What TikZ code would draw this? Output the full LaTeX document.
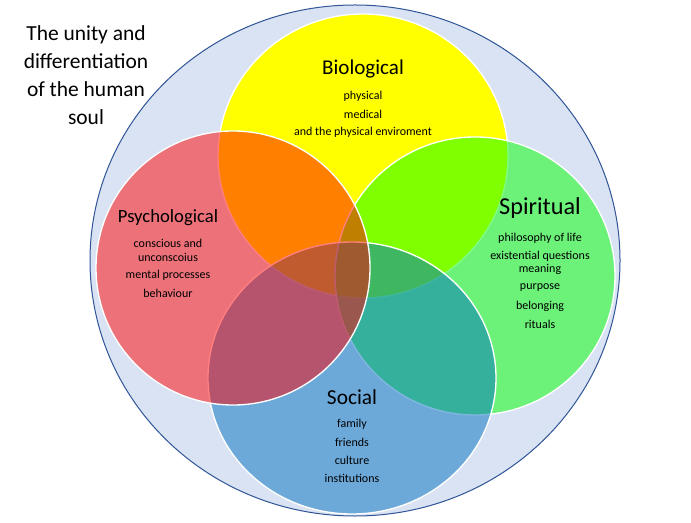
\documentclass[tikz,border=0pt]{standalone}
\usepackage{fontspec}
\setmainfont{Carlito}
\usetikzlibrary{positioning}
\definecolor{soulbg}{HTML}{DAE3F3}
\definecolor{soulrim}{HTML}{2F5597}
\definecolor{biocol}{HTML}{FFFF00}
\definecolor{spicol}{HTML}{00FF00}
\definecolor{soccol}{HTML}{0070C0}
\definecolor{psycol}{HTML}{FF0000}
\tikzset{
  part/.style={draw=white, line width=1pt},
  glassy/.style={part, fill opacity=0.5},
  title/.style={font=\fontsize{16.1}{21}\selectfont, align=center},
  item/.style={font=\fontsize{9}{11}\selectfont, align=center, inner sep=0pt},
}

\begin{document}
\begin{tikzpicture}[x=0.75pt,y=-0.75pt]
\useasboundingbox (0,0) rectangle (691,523);
% the whole soul
\draw[soulrim, fill=soulbg, line width=0.75pt] (355,260.5) ellipse [x radius=265, y radius=255.5];
% the four dimensions, yellow opaque underneath
\draw[part, fill=biocol] (363,156) ellipse [x radius=145, y radius=142];
\draw[glassy, fill=spicol] (475,276) ellipse [x radius=140, y radius=139];
\draw[glassy, fill=soccol] (352,378) ellipse [x radius=144, y radius=136];
\draw[glassy, fill=psycol] (233,268) ellipse [x radius=137, y radius=137];
\node[title] (soul) at (86,75) {The unity and\\differentiation\\of the human\\soul};
% biological
\node[font=\fontsize{15.8}{18}\selectfont] (bio) at (363,69) {Biological};
\node[item] (bio1) at (363,96) {physical};
\node[item] (bio2) at (363,114) {medical};
\node[item] (bio3) at (363,132) {and the physical enviroment};
% psychological
\node[font=\fontsize{14}{16}\selectfont] (psy) at (168,218) {Psychological};
\node[item] (psy1) at (168,250.5) {conscious and\\[-0.5pt]unconscoius};
\node[item] (psy2) at (168,275) {mental processes};
\node[item] (psy3) at (168,293) {behaviour};
% spiritual
\node[font=\fontsize{18.2}{21}\selectfont] (spi) at (540,208) {Spiritual};
\node[item] (spi1) at (540,238) {philosophy of life};
\node[item] (spi2) at (540,263) {existential questions\\[-1pt]meaning};
\node[item] (spi3) at (540,288) {purpose};
\node[item] (spi4) at (540,306) {belonging};
\node[item] (spi5) at (540,324) {rituals};
% social
\node[font=\fontsize{16}{18}\selectfont] (soc) at (352,397) {Social};
\node[item] (soc1) at (352,424) {family};
\node[item] (soc2) at (352,442) {friends};
\node[item] (soc3) at (352,460) {culture};
\node[item] (soc4) at (352,478) {institutions};
\end{tikzpicture}
\end{document}
